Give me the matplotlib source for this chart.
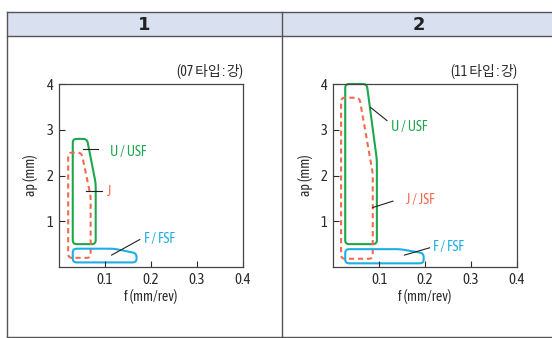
import matplotlib
matplotlib.use("Agg")
import matplotlib.pyplot as plt
import numpy as np
from matplotlib.path import Path
from matplotlib.patches import PathPatch, Rectangle
from matplotlib.lines import Line2D

plt.rcParams['font.family'] = ['Asap Condensed', 'Noto Sans CJK KR', 'DejaVu Sans']

# ---- data ----
panel_titles = ["1", "2"]
panel_notes = ["(07 타입 : 강)", "(11 타입 : 강)"]
x_ticks = [0.1, 0.2, 0.3, 0.4]
y_ticks = [1, 2, 3, 4]

# region outlines (f, ap)
p1_usf_f = [0.03, 0.03, 0.061, 0.080, 0.080]
p1_usf_ap = [0.5, 2.8, 2.8, 1.83, 0.5]
p1_j_f = [0.02, 0.02, 0.049, 0.069, 0.069]
p1_j_ap = [0.2, 2.5, 2.5, 1.55, 0.2]
p1_fsf_f = [0.03, 0.03, 0.12, 0.169, 0.169]
p1_fsf_ap = [0.1, 0.4, 0.4, 0.3, 0.1]

p2_usf_f = [0.026, 0.026, 0.073, 0.095, 0.095]
p2_usf_ap = [0.5, 4.0, 4.0, 2.34, 0.5]
p2_j_f = [0.017, 0.017, 0.057, 0.086, 0.086]
p2_j_ap = [0.18, 3.7, 3.7, 2.05, 0.18]
p2_fsf_f = [0.026, 0.026, 0.146, 0.197, 0.197]
p2_fsf_ap = [0.08, 0.39, 0.39, 0.3, 0.08]

# labels: text, text pos, leader start, leader end
p1_labels = [("U / USF", (0.111, 2.52), (0.052, 2.58), (0.0855, 2.58), 'g'),
             ("J", (0.105, 1.63), (0.0587, 1.66), (0.0928, 1.66), 'r'),
             ("F / FSF", (0.185, 0.61), (0.1146, 0.26), (0.176, 0.6), 'b')]
p2_labels = [("U / USF", (0.126, 3.05), (0.081, 3.49), (0.117, 3.2), 'g'),
             ("J / JSF", (0.159, 1.46), (0.086, 1.30), (0.130, 1.44), 'r'),
             ("F / FSF", (0.217, 0.43), (0.155, 0.26), (0.21, 0.42), 'b')]

colors = {'g': '#1fa64d', 'r': '#f26a4f', 'b': '#1eaee6'}

def rounded_path(fx, ay, r=0.085, xs=10.0):
    pts = np.column_stack([np.array(fx) * xs, np.array(ay)])
    n = len(pts)
    verts, codes = [], []
    for i in range(n):
        p0 = pts[i - 1]; p1 = pts[i]; p2 = pts[(i + 1) % n]
        d1 = p0 - p1; d2 = p2 - p1
        l1 = np.hypot(*d1); l2 = np.hypot(*d2)
        rr = min(r, l1 / 2, l2 / 2)
        a = p1 + d1 / l1 * rr
        b = p1 + d2 / l2 * rr
        if i == 0:
            verts.append(a); codes.append(Path.MOVETO)
        else:
            verts.append(a); codes.append(Path.LINETO)
        verts += [p1, b]; codes += [Path.CURVE3, Path.CURVE3]
    verts.append(verts[0]); codes.append(Path.CLOSEPOLY)
    v = np.array(verts)
    v[:, 0] /= xs
    return Path(v, codes)

fig = plt.figure(figsize=(5.52, 3.38), dpi=100)
W, H = 552, 338

def fx(px): return px / W
def fy(py): return 1 - py / H

# table frame
edge = '#555555'
hdr = Rectangle((fx(7), fy(36)), fx(552) - fx(7), fy(12) - fy(36), transform=fig.transFigure,
                facecolor='#d9e0ef', edgecolor='none', zorder=0)
fig.add_artist(hdr)
for (x0, y0, x1, y1) in [(7, 12, 552, 12), (7, 36, 552, 36), (7, 12, 7, 337), (281.5, 12, 281.5, 337),
                         (7, 337, 552, 337)]:
    fig.add_artist(Line2D([fx(x0), fx(x1)], [fy(y0), fy(y1)], transform=fig.transFigure,
                          color=edge, lw=1.0))

hdr_centers = [144, 419]
for t, cx in zip(panel_titles, hdr_centers):
    fig.text(fx(cx), fy(24.5), t, ha='center', va='center', fontsize=13, fontweight='bold',
             color='#222222', family=['DejaVu Sans'])

axes_left = [59, 333.3]
panels = [
    ([(p1_usf_f, p1_usf_ap, 'g', '-'), (p1_j_f, p1_j_ap, 'r', '--'), (p1_fsf_f, p1_fsf_ap, 'b', '-')], p1_labels),
    ([(p2_usf_f, p2_usf_ap, 'g', '-'), (p2_j_f, p2_j_ap, 'r', '--'), (p2_fsf_f, p2_fsf_ap, 'b', '-')], p2_labels),
]

for k, (shapes, labels) in enumerate(panels):
    ax = fig.add_axes([fx(axes_left[k]), fy(267), 183.5 / W, 183 / H])
    ax.set_xlim(0, 0.4)
    ax.set_ylim(0, 4)
    ax.set_xticks(x_ticks)
    ax.set_xticklabels([f"{v:g}" for v in x_ticks])
    ax.set_yticks(y_ticks)
    ax.set_yticklabels([str(v) for v in y_ticks])
    ax.tick_params(direction='in', length=4, width=0.8, colors='#2a2a2a', labelsize=10.5, pad=4)
    for s in ax.spines.values():
        s.set_color('#444444'); s.set_linewidth(0.9)
    ax.set_xlabel("f (mm/rev)", fontsize=10, color='#2a2a2a', labelpad=2)
    ax.set_ylabel("ap (mm)", fontsize=10, color='#2a2a2a', labelpad=6)
    ax.text(1.0, 1.03, panel_notes[k], transform=ax.transAxes, ha='right', va='bottom',
            fontsize=10, color='#2a2a2a')
    for (sx, sy, c, ls) in shapes:
        path = rounded_path(sx, sy)
        ax.add_patch(PathPatch(path, facecolor='none', edgecolor=colors[c], lw=1.5,
                               linestyle=(0, (2.5, 1.8)) if ls == '--' else '-', clip_on=False))
    for (txt, tp, l0, l1, c) in labels:
        ax.plot([l0[0], l1[0]], [l0[1], l1[1]], color='#222222', lw=0.8)
        ax.text(tp[0], tp[1], txt, color=colors[c], fontsize=10, ha='left', va='center')

fig.savefig("out.png", dpi=100)
